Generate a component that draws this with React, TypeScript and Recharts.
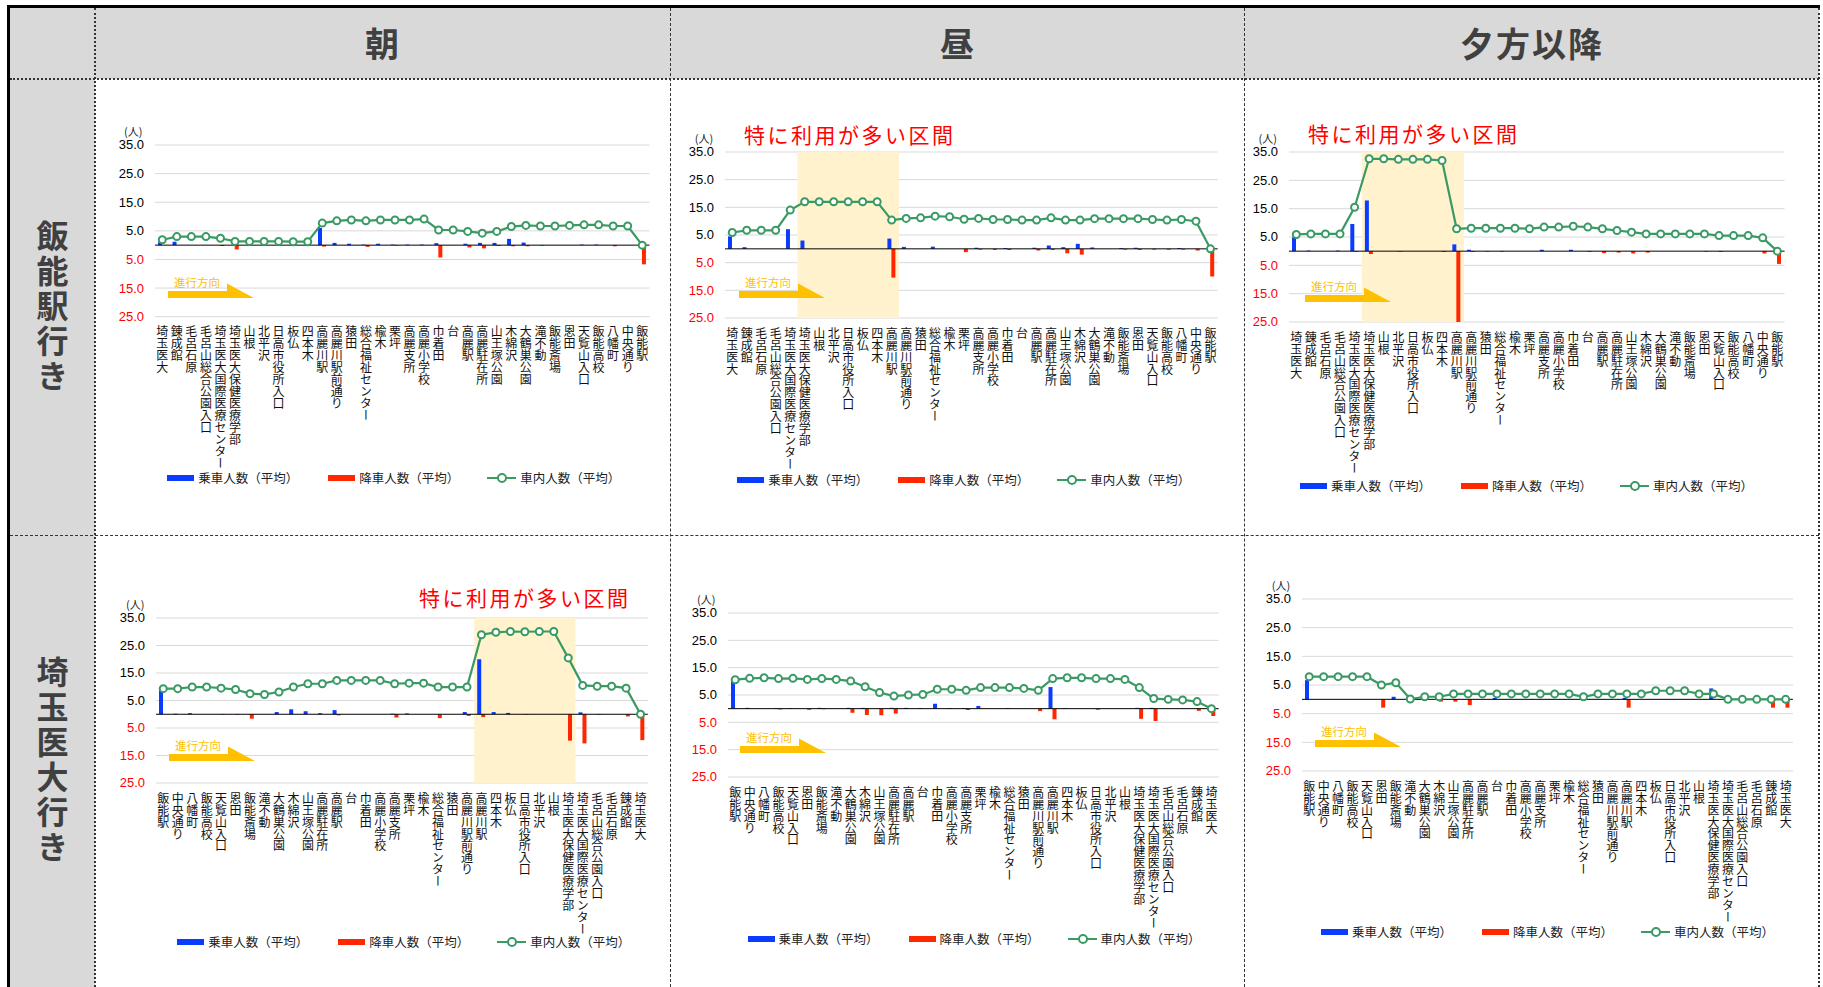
import React from 'react';
import {
  ComposedChart, Bar, Line, XAxis, YAxis, CartesianGrid, ReferenceArea, ReferenceLine,
} from 'recharts';

const JP = '"Noto Sans CJK JP", "Noto Sans", sans-serif';
const NUM = '"Liberation Sans", Arial, sans-serif';
const BLUE = '#0a3cff';
const RED = '#ff2600';
const GREEN = '#3a9a64';

// 停留所（飯能駅行き）
const stopsToHanno = [
  '埼玉医大', '錬成館', '毛呂石原', '毛呂山総合公園入口', '埼玉医大国際医療センター', '埼玉医大保健医療学部',
  '山根', '北平沢', '日高市役所入口', '板仏', '四本木', '高麗川駅', '高麗川駅前通り', '猿田', '総合福祉センター',
  '楡木', '栗坪', '高麗支所', '高麗小学校', '巾着田', '台', '高麗駅', '高麗駐在所', '山王塚公園', '木綿沢',
  '大鶴巣公園', '滝不動', '飯能斎場', '恩田', '天覧山入口', '飯能高校', '八幡町', '中央通り', '飯能駅',
];

// 停留所（埼玉医大行き）
const stopsToIdai = [
  '飯能駅', '中央通り', '八幡町', '飯能高校', '天覧山入口', '恩田', '飯能斎場', '滝不動', '大鶴巣公園', '木綿沢',
  '山王塚公園', '高麗駐在所', '高麗駅', '台', '巾着田', '高麗小学校', '高麗支所', '栗坪', '楡木', '総合福祉センター',
  '猿田', '高麗川駅前通り', '高麗川駅', '四本木', '板仏', '日高市役所入口', '北平沢', '山根', '埼玉医大保健医療学部',
  '埼玉医大国際医療センター', '毛呂山総合公園入口', '毛呂石原', '錬成館', '埼玉医大',
];

const yTicks = [-25, -15, -5, 5, 15, 25, 35];
const timeHeaders = ['朝', '昼', '夕方以降'];
const directionLabels = ['飯能駅行き', '埼玉医大行き'];

// 朝・飯能駅行き
const boardAmHanno = [1.0, 1.2, 0, 0, 0, 0, 0, 0, 0, 0, 0, 6.0, 0.8, 0.5, 0.2, 0.5, 0.2, 0.2, 0.2, 0.7, 0, 0.5, 0.8, 0.8, 2.2, 0.9, 0, 0, 0, 0.2, 0.2, 0, 0, 0];
const alightAmHanno = [0, 0, 0, 0, -0.3, -1.5, 0, 0, 0, 0, 0, -0.5, 0, 0, -0.6, 0, -0.2, 0, 0, -4.3, 0, -0.8, -1.1, -0.3, -0.4, -0.4, -0.2, 0, 0, 0, 0, -0.4, 0, -6.7];
const ridersAmHanno = [1.9, 3.0, 3.0, 3.0, 2.4, 1.3, 1.3, 1.3, 1.3, 1.2, 1.2, 7.7, 8.5, 8.8, 8.5, 8.8, 8.8, 8.8, 9.1, 5.3, 5.3, 4.8, 4.2, 4.8, 6.5, 6.9, 6.7, 6.7, 6.9, 7.1, 7.1, 6.7, 6.7, 0];

// 昼・飯能駅行き
const boardNoonHanno = [4.5, 0.6, 0, 0, 7.1, 3.0, 0, 0, 0, 0, 0, 3.7, 0.7, 0, 0.8, 0, 0, 0.4, 0, 0.3, 0, 0.4, 1.2, 0.6, 1.8, 0.5, 0, 0.3, 0.4, 0, 0, 0.3, 0, 0];
const alightNoonHanno = [0, 0, 0, 0, 0, 0, 0, 0, 0, 0, 0, -10.4, 0, 0, 0, 0, -1.2, -0.3, -0.4, -0.4, 0, -0.6, -0.4, -1.6, -2.1, 0, 0, -0.3, -0.4, -0.3, -0.3, -0.3, -0.6, -10];
const ridersNoonHanno = [5.9, 6.7, 6.7, 6.7, 14, 17, 17, 17, 17, 17, 17, 10.4, 11, 11.2, 11.8, 11.6, 10.7, 11, 10.6, 10.6, 10.4, 10.4, 11.2, 10.4, 10.4, 10.9, 10.9, 10.9, 10.9, 10.6, 10.4, 10.6, 10, 0];

// 夕方以降・飯能駅行き
const boardEveHanno = [4.9, 0.2, 0, 0.2, 9.6, 17.9, 0, 0, 0, 0, 0, 2.4, 0.5, 0, 0, 0, 0, 0.5, 0, 0.5, 0, 0, 0, 0, 0, 0, 0, 0, 0, 0, 0, 0, 0, 0];
const alightEveHanno = [0, 0, 0, 0, -0.3, -1.0, 0, -0.2, 0, 0, -0.3, -25, -0.3, -0.2, -0.2, 0, 0, 0, 0, 0, -0.3, -0.7, -0.5, -0.8, -0.5, 0, 0, 0, -0.2, -0.3, 0, 0, -0.8, -4.5];
const ridersEveHanno = [5.9, 6.1, 6.1, 6.1, 15.5, 32.6, 32.6, 32.4, 32.4, 32.4, 32, 7.9, 8.1, 8.1, 8.1, 8.1, 7.9, 8.5, 8.5, 8.8, 8.5, 7.9, 7.3, 6.7, 6.1, 6.1, 6.1, 6.1, 6.1, 5.5, 5.5, 5.5, 4.7, 0];

// 朝・埼玉医大行き
const boardAmIdai = [9.3, 0.2, 0.4, 0, 0, 0, 0, 0, 0.8, 1.8, 1.1, 0.4, 1.5, 0, 0, 0, 0.2, 0.3, 0, 0, 0, 0.8, 20, 0.8, 0.5, 0, 0, 0, 0, 0.7, 0, 0, 0, 0];
const alightAmIdai = [0, 0, 0, 0, -0.2, -0.2, -1.6, 0, 0, 0, 0, 0, -0.4, 0, 0, 0, -1.2, 0, 0, -1.4, 0, -0.6, -1.0, 0, 0, -0.2, 0, 0, -9.6, -10.6, -0.2, 0, -0.8, -9.4];
const ridersAmIdai = [9.3, 9.3, 9.9, 9.9, 9.5, 9.0, 7.5, 7.2, 8.1, 9.9, 11.1, 11.1, 12.3, 12.3, 12.3, 12.3, 11.1, 11.3, 11.3, 9.9, 9.9, 9.9, 28.9, 29.8, 30.1, 30, 30.1, 30.1, 20.5, 10.5, 10.2, 10.2, 9.5, 0];

// 昼・埼玉医大行き
const boardNoonIdai = [10.6, 0.3, 0, 0.2, 0.2, 0, 0.3, 0, 0.3, 0.3, 0, 0.3, 0.3, 0.2, 1.8, 0.2, 0.2, 1.0, 0, 0.2, 0, 0, 7.9, 0.2, 0, 0, 0, 0, 0.3, 0.3, 0, 0, 0, 0];
const alightNoonIdai = [0, 0, 0, -0.3, 0, -0.4, -0.2, 0, -1.5, -2.3, -2.4, -1.8, 0, 0, 0, 0, -0.5, 0, 0, 0, 0, -0.9, -3.9, 0, 0, -0.4, 0, 0, -3.7, -4.5, 0, 0, -0.8, -2.7];
const ridersNoonIdai = [10.6, 11.1, 11.3, 11, 11.1, 10.7, 11, 10.7, 10.1, 8, 5.9, 4.6, 5, 5.2, 7.1, 7.1, 6.7, 7.7, 7.7, 7.7, 7.4, 6.7, 11, 11.3, 11.3, 11, 11, 10.7, 7.7, 3.7, 3.4, 3.2, 2.6, 0];

// 夕方以降・埼玉医大行き
const boardEveIdai = [6.7, 0, 0, 0, 0, 0, 0.9, 0, 0, 0, 0, 0, 0, 0.5, 0, 0, 0, 0, 0, 0, 0, 0, 0.5, 0, 0, 0, 0, 0, 3.8, 0, 0, 0, 0, 0];
const alightEveIdai = [0, 0, 0, 0, 0, -2.9, 0, 0, 0, -0.8, -0.8, -2.0, 0, 0, 0, 0, 0, 0, 0, 0, 0, 0, -2.9, 0, 0, 0, 0, 0, 0, 0, 0, 0, -2.9, -2.9];
const ridersEveIdai = [7.9, 7.9, 7.9, 7.9, 7.9, 5.0, 5.8, 0.1, 0.9, 0.9, 1.9, 1.9, 1.9, 1.9, 1.9, 1.9, 1.9, 1.9, 1.9, 0.9, 1.9, 1.9, 1.9, 1.9, 3.0, 3.0, 3.0, 1.9, 1.9, 0, 0, 0, 0, 0];

interface PanelProps {
  stops: string[];
  board: number[];
  alight: number[];
  riders: number[];
  left: number;
  right: number;
  top: number;
  bottom: number;
  arrow: [number, number];
  legend: [number, number];
  hl?: [number, number];
  note?: [number, number];
}

function Panel(p: PanelProps) {
  const plotH = p.bottom - p.top;
  const w = p.right - p.left + 70;
  const h = plotH + 10 + 165;
  const data = p.stops.map((s, i) => ({ stop: s, board: p.board[i], alight: p.alight[i], riders: p.riders[i] }));
  const labelTop = 10 + plotH + 9;
  const [ax, ay] = p.arrow;
  const [lx, ly] = p.legend;

  return (
    <>
      <div style={{ position: 'absolute', left: p.left - 60, top: p.top - 10 }}>
        <ComposedChart width={w} height={h} data={data} margin={{ top: 10, right: 10, left: 0, bottom: 0 }} barGap={0}>
          {p.hl && (
            <ReferenceArea x1={p.stops[p.hl[0]]} x2={p.stops[p.hl[1]]} fill='#fff2cc' fillOpacity={1} stroke='none' />
          )}
          <CartesianGrid vertical={false} stroke='#d9d9d9' />
          <XAxis
            dataKey='stop'
            interval={0}
            axisLine={false}
            tickLine={false}
            height={165}
            tick={(t: any) => (
              <text
                x={t.x}
                y={labelTop}
                fontSize={12}
                fontFamily={JP}
                fill='#111'
                style={{ writingMode: 'vertical-rl' }}
              >
                {t.payload.value}
              </text>
            )}
          />
          <YAxis
            type='number'
            domain={[-25, 35]}
            ticks={yTicks}
            width={60}
            axisLine={false}
            tickLine={false}
            interval={0}
            tick={(t: any) => (
              <text
                x={49}
                y={t.y}
                dy={4.5}
                textAnchor='end'
                fontSize={13}
                fontFamily={NUM}
                fill={t.payload.value < 0 ? '#ff0000' : '#000'}
              >
                {Math.abs(t.payload.value).toFixed(1)}
              </text>
            )}
          />
          <ReferenceLine y={0} stroke='#000' strokeWidth={1} />
          <Bar dataKey='board' fill={BLUE} barSize={4} isAnimationActive={false} />
          <Bar dataKey='alight' fill={RED} barSize={4} isAnimationActive={false} />
          <Line
            type='linear'
            dataKey='riders'
            stroke={GREEN}
            strokeWidth={2.2}
            dot={{ r: 3.5, fill: '#fff', stroke: GREEN, strokeWidth: 2 }}
            isAnimationActive={false}
          />
        </ComposedChart>
      </div>

      {/* (人) */}
      <div style={{ position: 'absolute', left: p.left - 44, top: p.top - 21, width: 32, textAlign: 'right', fontFamily: JP, fontSize: 11, lineHeight: '14px', color: '#222' }}>
        (人)
      </div>

      {/* 進行方向 */}
      <svg style={{ position: 'absolute', left: ax, top: ay - 20 }} width={92} height={30}>
        <polygon points={`0,20 59,20 59,12.6 86,27 0,27`} fill='#ffc000' />
        <text x={6} y={15.5} fontSize={11.5} fontFamily={JP} fill='#ffc000'>進行方向</text>
      </svg>

      {p.note && (
        <div style={{ position: 'absolute', left: p.note[0], top: p.note[1] - 12, fontFamily: JP, fontSize: 21, lineHeight: '24px', letterSpacing: 2.5, color: '#ff0000', whiteSpace: 'nowrap' }}>
          特に利用が多い区間
        </div>
      )}

      {/* legend */}
      <div style={{ position: 'absolute', left: lx, top: ly - 9, width: 470, height: 18, fontFamily: JP, fontSize: 12.5, color: '#222', whiteSpace: 'nowrap' }}>
        <span style={{ position: 'absolute', left: 0, top: 6, width: 27, height: 6, background: BLUE }} />
        <span style={{ position: 'absolute', left: 31, top: 0, lineHeight: '18px' }}>乗車人数（平均）</span>
        <span style={{ position: 'absolute', left: 161, top: 6, width: 27, height: 6, background: RED }} />
        <span style={{ position: 'absolute', left: 192, top: 0, lineHeight: '18px' }}>降車人数（平均）</span>
        <span style={{ position: 'absolute', left: 320, top: 8, width: 29, height: 2, background: GREEN }} />
        <span style={{ position: 'absolute', left: 330, top: 4, width: 6, height: 6, borderRadius: 5, border: `2px solid ${GREEN}`, background: '#fff' }} />
        <span style={{ position: 'absolute', left: 353, top: 0, lineHeight: '18px' }}>車内人数（平均）</span>
      </div>
    </>
  );
}

function Frame() {
  const line = (style: React.CSSProperties) => <div style={{ position: 'absolute', ...style }} />;
  const colCenters = [383, 958, 1532];
  return (
    <>
      {line({ left: 10, top: 8, width: 1809, height: 71, background: '#d9d9d9' })}
      {line({ left: 10, top: 79, width: 85, height: 908, background: '#d9d9d9' })}
      {line({ left: 7, top: 5, width: 1813, height: 3, background: '#000' })}
      {line({ left: 7, top: 5, width: 3, height: 982, background: '#000' })}
      {line({ left: 10, top: 78, width: 1809, borderTop: '2px dotted #333' })}
      {line({ left: 10, top: 535, width: 1809, borderTop: '1.5px dashed #333' })}
      {line({ left: 94, top: 8, height: 979, borderLeft: '2px dotted #333' })}
      {line({ left: 670, top: 8, height: 979, borderLeft: '1.5px dashed #333' })}
      {line({ left: 1244, top: 8, height: 979, borderLeft: '1.5px dashed #333' })}
      {line({ left: 1818, top: 8, height: 979, borderLeft: '2px dotted #333' })}
      {timeHeaders.map((t, i) => (
        <div key={t} style={{ position: 'absolute', left: colCenters[i] - 150, top: 22, width: 300, textAlign: 'center', fontFamily: JP, fontWeight: 700, fontSize: 34, lineHeight: '42px', letterSpacing: 2, color: '#404040' }}>
          {t}
        </div>
      ))}
      {directionLabels.map((t, i) => (
        <div key={t} style={{ position: 'absolute', left: 10, width: 85, top: i === 0 ? 79 : 535, height: i === 0 ? 456 : 452, display: 'flex', alignItems: 'center', justifyContent: 'center' }}>
          <div style={{ writingMode: 'vertical-rl', fontFamily: JP, fontWeight: 700, fontSize: 32, letterSpacing: 3, color: '#404040' }}>{t}</div>
        </div>
      ))}
    </>
  );
}

export default function App() {
  return (
    <div style={{ position: 'absolute', left: 0, top: 0, width: 1823, height: 987, background: '#fff', overflow: 'hidden' }}>
      <Frame />
      <Panel stops={stopsToHanno} board={boardAmHanno} alight={alightAmHanno} riders={ridersAmHanno}
        left={154.5} right={649} top={145} bottom={316.7} arrow={[168.4, 290.7]} legend={[167.3, 478.3]} />
      <Panel stops={stopsToHanno} board={boardNoonHanno} alight={alightNoonHanno} riders={ridersNoonHanno}
        left={725.3} right={1218} top={151.7} bottom={317.7} arrow={[739, 291]} legend={[737.3, 480]}
        hl={[5, 11]} note={[744, 134]} />
      <Panel stops={stopsToHanno} board={boardEveHanno} alight={alightEveHanno} riders={ridersEveHanno}
        left={1288.9} right={1784.5} top={151.7} bottom={321.7} arrow={[1304.7, 295]} legend={[1300, 485.7]}
        hl={[5, 11]} note={[1308, 133]} />
      <Panel stops={stopsToIdai} board={boardAmIdai} alight={alightAmIdai} riders={ridersAmIdai}
        left={156.4} right={648.2} top={617.7} bottom={782.7} arrow={[169, 754.3]} legend={[177.3, 942.3]}
        hl={[22, 28]} note={[419, 596.7]} />
      <Panel stops={stopsToIdai} board={boardNoonIdai} alight={alightNoonIdai} riders={ridersNoonIdai}
        left={727.5} right={1218.2} top={612.7} bottom={776.7} arrow={[740, 745.7]} legend={[747.6, 939.4]} />
      <Panel stops={stopsToIdai} board={boardEveIdai} alight={alightEveIdai} riders={ridersEveIdai}
        left={1302.3} right={1793.2} top={599.3} bottom={771.3} arrow={[1315, 740]} legend={[1321, 932.4]} />
    </div>
  );
}
